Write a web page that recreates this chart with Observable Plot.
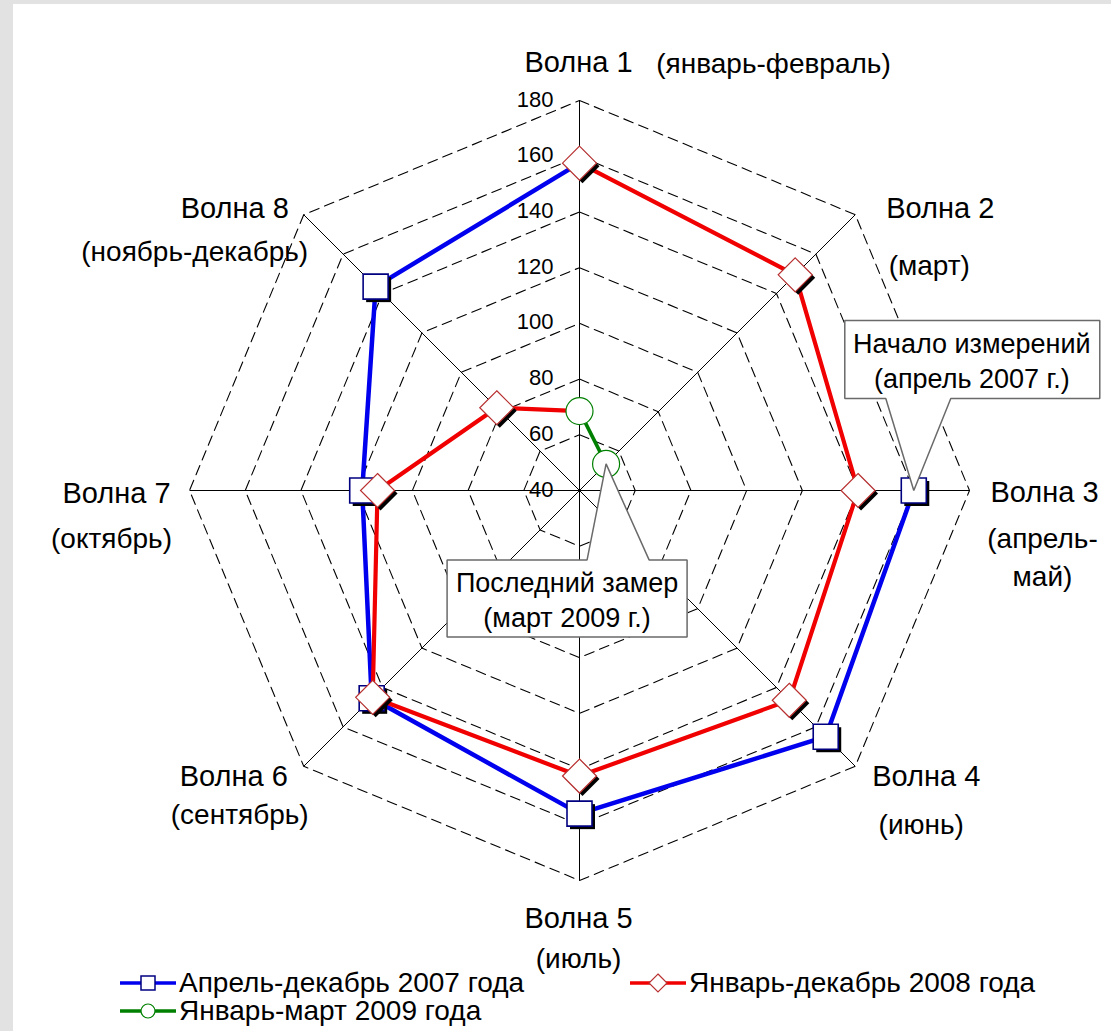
<!DOCTYPE html>
<html><head><meta charset="utf-8">
<script src="https://cdn.jsdelivr.net/npm/d3@7"></script>
<script src="https://cdn.jsdelivr.net/npm/@observablehq/plot@0.6"></script>
<style>
html,body{margin:0;padding:0;}
body{width:1111px;height:1031px;background:#e2e2e2;position:relative;overflow:hidden;font-family:"Liberation Sans",Arial,sans-serif;color:#000;}
#panel{position:absolute;left:13px;top:4px;width:1098px;height:1027px;background:#fff;}
#chart{position:absolute;left:0;top:0;}
.leg{position:absolute;font-size:28px;line-height:28px;white-space:nowrap;display:flex;align-items:center;}
.leg svg{margin-right:3px;}
</style></head><body>
<div id="panel"></div>
<div id="chart"></div>
<div id="legend"></div>
<script>
// ---------- data ----------
const waves = ["Волна 1","Волна 2","Волна 3","Волна 4","Волна 5","Волна 6","Волна 7","Волна 8"];
const months = ["(январь-февраль)","(март)","(апрель-\nмай)","(июнь)","(июль)","(сентябрь)","(октябрь)","(ноябрь-декабрь)"];
const tickValues = [40,60,80,100,120,140,160,180];
const seriesNames = ["Апрель-декабрь 2007 года","Январь-декабрь 2008 года","Январь-март 2009 года"];
const values2007 = [null,null,160,165,156,145.5,118,143.5];
const values2008 = [157.5,149.5,140,146.5,142.5,145,112.5,82];
const values2009 = [68.5,53.5,null,null,null,null,null,null];
const calloutStart = "Начало измерений\n(апрель 2007 г.)";
const calloutEnd = "Последний замер\n(март 2009 г.)";

// ---------- geometry ----------
const W = 1111, H = 968;
const cx = 579, cy = 490;
const vMin = 40, vMax = 180, Rpx = 390;
const k = Rpx / (vMax - vMin);
const ang = i => i * Math.PI / 4;
const px = (v, i) => (v - vMin) * Math.sin(ang(i));
const py = (v, i) => (v - vMin) * Math.cos(ang(i));

const seriesValues = [values2007, values2008, values2009];
const lineColors = ["#0000ee", "#f00000", "#008000"];
const markStroke = ["#000080", "#b83030", "#008000"];
const lineWidths = [4.5, 4.2, 3.6];

const pts = seriesValues.map((vals, s) =>
  vals.map((v, i) => v == null ? null : {s, i, v, x: px(v, i), y: py(v, i)}).filter(Boolean));
// each series' line continues to the next series' first point (chronological path)
const paths = pts.map((p, s) => s < pts.length - 1 ? [...p, pts[s + 1][0]] : p);

const rings = tickValues.filter(v => v > vMin)
  .flatMap(v => d3.range(9).map(j => ({v, x: px(v, j % 8), y: py(v, j % 8)})));
const spokes = waves.map((w, i) => ({x2: px(vMax, i), y2: py(vMax, i)}));

// custom symbols (half-size = r)
const sq = {draw(c, size){const s = Math.sqrt(size/Math.PI); c.moveTo(-s,-s); c.lineTo(s,-s); c.lineTo(s,s); c.lineTo(-s,s); c.closePath();}};
const dm = {draw(c, size){const s = Math.sqrt(size/Math.PI); c.moveTo(0,-s); c.lineTo(s,0); c.lineTo(0,s); c.lineTo(-s,0); c.closePath();}};
const symbols = [sq, dm, "circle"];
const symR = [12.5, 17, 13.5];
const shadow = [true, true, false];

// label offsets from spoke ends, in pixels [dx, dy]
const labelOffsets = [
  {name:[-1,-38], month:[194,-40]},
  {name:[85,-6],  month:[74,48]},
  {name:[75,2],   month:[73,64]},
  {name:[71,10],  month:[66,56]},
  {name:[-1,38],  month:[-1,75]},
  {name:[-70,10], month:[-64,46]},
  {name:[-73,3],  month:[-78,45]},
  {name:[-69,-6], month:[-109,34]}
];

const labelMarks = waves.flatMap((w, i) => [
  Plot.text([w], {x: () => px(vMax, i), y: () => py(vMax, i), text: d => d,
    dx: labelOffsets[i].name[0], dy: labelOffsets[i].name[1], fontSize: 29, fill: "#000"}),
  Plot.text([months[i]], {x: () => px(vMax, i), y: () => py(vMax, i), text: d => d,
    dx: labelOffsets[i].month[0], dy: labelOffsets[i].month[1], fontSize: 28, lineHeight: 1.36, fill: "#000"})
]);

const seriesMarks = pts.flatMap((p, s) => [
  Plot.line(paths[s], {x: "x", y: "y", stroke: lineColors[s], strokeWidth: lineWidths[s], strokeLinejoin: "round"}),
  ...(shadow[s] ? [Plot.dot(p, {x: "x", y: "y", r: symR[s], symbol: symbols[s], fill: "#000", stroke: "none", dx: 3, dy: 3})] : []),
  Plot.dot(p, {x: "x", y: "y", r: symR[s], symbol: symbols[s], fill: "#fff", stroke: markStroke[s], strokeWidth: s === 0 ? 1.6 : 1.2})
]);

// callouts anchored at first and last measured points; polygons in pixel offsets (y down)
const firstPt = pts[0][0];
const lastPt = pts[2][pts[2].length - 1];
const callouts = [
  {a: firstPt, text: calloutStart, tx: 58, ty: -131,
   poly: [[-69,-170],[186,-170],[186,-92],[37,-92],[0,0],[-28,-92],[-69,-92]]},
  {a: lastPt, text: calloutEnd, tx: -39, ty: 134,
   poly: [[-159,96],[-19,96],[0,0],[43,96],[81,96],[81,173],[-159,173]]}
];
const calloutMarks = callouts.flatMap(c => [
  Plot.line(c.poly.map(([ox, oy]) => ({x: c.a.x + ox / k, y: c.a.y - oy / k})),
    {x: "x", y: "y", curve: "linear-closed", fill: "#fff", stroke: "#6a6a6a", strokeWidth: 1.5, strokeLinejoin: "miter"}),
  Plot.text([c.text], {x: () => c.a.x, y: () => c.a.y, text: d => d, dx: c.tx, dy: c.ty,
    fontSize: 27, lineHeight: 1.3, fill: "#000"})
]);

const chart = Plot.plot({
  width: W, height: H,
  marginTop: 0, marginRight: 0, marginBottom: 0, marginLeft: 0,
  style: "background: transparent; font-family: 'Liberation Sans', Arial, sans-serif; overflow: visible;",
  x: {domain: [-cx / k, (W - cx) / k], range: [0, W], axis: null},
  y: {domain: [-(H - cy) / k, cy / k], range: [H, 0], axis: null},
  marks: [
    Plot.line(rings, {x: "x", y: "y", z: "v", stroke: "#000", strokeWidth: 1.1, strokeDasharray: "10,6"}),
    Plot.link(spokes, {x1: () => 0, y1: () => 0, x2: "x2", y2: "y2", stroke: "#000", strokeWidth: 1}),
    Plot.text(tickValues, {x: () => 0, y: v => v - vMin, text: v => String(v), textAnchor: "end",
      dx: -26, dy: -1, fontSize: 22, fill: "#000"}),
    ...labelMarks,
    ...seriesMarks,
    ...calloutMarks
  ]
});
document.getElementById("chart").appendChild(chart);

// ---------- legend ----------
function swatch(s) {
  const col = lineColors[s], st = markStroke[s];
  let m;
  if (s === 0) m = `<rect x="21" y="4" width="14" height="14" fill="#fff" stroke="${st}" stroke-width="1.5"/>`;
  else if (s === 1) m = `<path d="M28,2 L37,11 L28,20 L19,11 Z" fill="#fff" stroke="${st}" stroke-width="1.2"/>`;
  else m = `<circle cx="28" cy="11" r="7" fill="#fff" stroke="${st}" stroke-width="1.2"/>`;
  return `<svg width="56" height="22"><line x1="0" x2="56" y1="11" y2="11" stroke="${col}" stroke-width="3.5"/>${m}</svg>`;
}
const legPos = [{left: 120, top: 969}, {left: 630, top: 969}, {left: 120, top: 997}];
const legend = document.getElementById("legend");
seriesNames.forEach((name, s) => {
  const d = document.createElement("div");
  d.className = "leg";
  d.style.left = legPos[s].left + "px";
  d.style.top = legPos[s].top + "px";
  d.innerHTML = swatch(s) + `<span>${name}</span>`;
  legend.appendChild(d);
});
</script>
</body></html>
